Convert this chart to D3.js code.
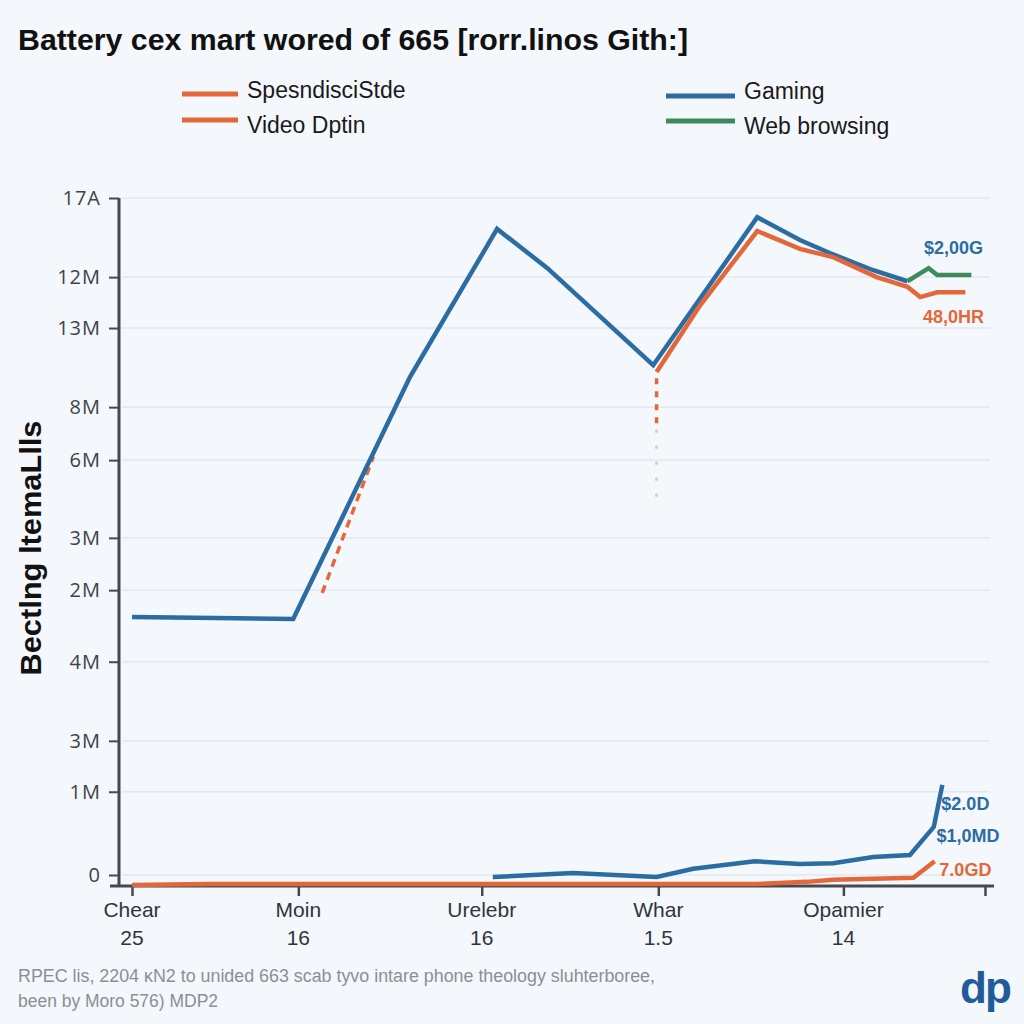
<!DOCTYPE html>
<html><head><meta charset="utf-8">
<script src="https://cdn.jsdelivr.net/npm/d3@7"></script>
<style>
html,body{margin:0;padding:0;background:#f4f7fb;}
svg{display:block;}
</style></head>
<body>
<svg id="chart" width="1024" height="1024"></svg>
<script>
// ---------- data ----------
const titleText = "Battery cex mart wored of 665 [rorr.linos Gith:]";
const yAxisTitle = "Bectlng ltemaLlls";
const footLines = ["RPEC lis, 2204 \u0138N2 to unided 663 scab tyvo intare phone theology sluhterboree,", "been by Moro 576) MDP2"];

const xTickValues = [0, 19.5, 41.0, 61.7, 83.4, 100];
const xTickNames = ["Chear", "Moin", "Urelebr", "Whar", "Opamier", ""];
const xTickNums = ["25", "16", "16", "1.5", "14", ""];

const yTickValues = [100, 88.5, 81.1, 69.6, 61.9, 50.6, 43.0, 32.6, 21.1, 13.7, 1.6];
const yTickLabels = ["17A", "12M", "13M", "8M", "6M", "3M", "2M", "4M", "3M", "1M", "0"];

const legendNames = ["SpesndisciStde", "Video Dptin", "Gaming", "Web browsing"];

// series (x in axis units 0-100, y in axis units 0-100)
const gamingX = [0, 18.9, 32.6, 42.8, 48.7, 61.1, 73.3, 78.3, 81.8, 86.9, 90.9];
const gamingY = [39.1, 38.8, 74.0, 95.5, 89.8, 75.7, 97.2, 93.9, 92.0, 89.5, 87.9];

const webX = [90.9, 93.4, 94.4, 98.4];
const webY = [87.9, 89.8, 88.8, 88.8];

const videoX = [61.5, 66.6, 73.3, 78.3, 82.2, 87.3, 90.9, 92.4, 94.4, 97.7];
const videoY = [74.7, 84.4, 95.2, 92.6, 91.4, 88.5, 87.1, 85.6, 86.3, 86.3];

const spendDashX = [22.3, 28.3];
const spendDashY = [42.6, 62.4];

const videoDropX = [61.5, 61.5, 61.5];
const videoDropY = [73.8, 66.3, 56.1];

const gamingLowX = [42.3, 51.7, 61.5, 65.8, 73.0, 78.3, 82.2, 86.9, 91.2, 94.0, 95.0];
const gamingLowY = [1.3, 1.9, 1.3, 2.5, 3.6, 3.2, 3.3, 4.2, 4.5, 8.6, 14.7];

const spendLowX = [0, 8.9, 73.3, 79.1, 82.2, 91.6, 94.1];
const spendLowY = [0.15, 0.3, 0.3, 0.6, 0.9, 1.2, 3.6];

const endLabels = ["$2,00G", "48,0HR", "$2.0D", "$1,0MD", "7.0GD"];
const endLabelX = [96.3, 96.3, 97.7, 98.0, 97.7];
const endLabelY = [92.8, 82.8, 11.9, 7.3, 2.3];

// ---------- drawing ----------
const BLUE = "#2b6ca3", ORANGE = "#e2673a", GREEN = "#3f8a5c";
const svg = d3.select("#chart");
svg.append("rect").attr("width",1024).attr("height",1024).attr("fill","#f4f7fb");

const x = d3.scaleLinear().domain([0,100]).range([132,985]);
const y = d3.scaleLinear().domain([0,100]).range([886,198]);

// grid
svg.append("g").selectAll("line").data(yTickValues).join("line")
  .attr("x1",122).attr("x2",990).attr("y1",d=>y(d)).attr("y2",d=>y(d))
  .attr("stroke","#e2e8ef").attr("stroke-width",1.5);

// y axis
const yAxis = d3.axisLeft(y).tickValues(yTickValues).tickFormat((d,i)=>yTickLabels[i]).tickSize(10).tickPadding(8);
const gy = svg.append("g").attr("transform","translate(119,0)").call(yAxis);
gy.select(".domain").attr("stroke","#454a52").attr("stroke-width",3).attr("d","M0,198V886");
gy.selectAll(".tick line").attr("stroke","#454a52").attr("stroke-width",2);
gy.selectAll(".tick text").attr("fill","#3d434b").attr("font-family","'Open Sans',sans-serif").attr("font-size",20).attr("letter-spacing",1);

// x axis
const xAxis = d3.axisBottom(x).tickValues(xTickValues).tickFormat("").tickSize(10);
const gx = svg.append("g").attr("transform","translate(0,886)").call(xAxis);
gx.select(".domain").attr("stroke","#454a52").attr("stroke-width",3).attr("d","M110,0H994");
gx.selectAll(".tick line").attr("stroke","#454a52").attr("stroke-width",2.5);
const xl = svg.append("g");
xTickValues.forEach((v,i)=>{
  xl.append("text").attr("x",x(v)).attr("y",917).attr("text-anchor","middle")
    .attr("font-family","'Liberation Sans',Arial,sans-serif").attr("font-size",21).attr("fill","#30353c").text(xTickNames[i]);
  xl.append("text").attr("x",x(v)).attr("y",945).attr("text-anchor","middle")
    .attr("font-family","'Liberation Sans',Arial,sans-serif").attr("font-size",21).attr("fill","#30353c").text(xTickNums[i]);
});

// lines
const line = d3.line().x(d=>x(d[0])).y(d=>y(d[1]));
const zip = (a,b)=>a.map((v,i)=>[v,b[i]]);
function draw(xs, ys, color, w, dash, op){
  svg.append("path").datum(zip(xs,ys)).attr("d",line).attr("fill","none")
    .attr("stroke",color).attr("stroke-width",w).attr("stroke-linejoin","miter")
    .attr("stroke-dasharray",dash||null).attr("opacity",op==null?1:op);
}
draw(spendLowX, spendLowY, ORANGE, 4.5);
draw(gamingLowX, gamingLowY, BLUE, 4.5);
draw(spendDashX, spendDashY, ORANGE, 3.5, "8,6");
draw(videoDropX.slice(0,2), videoDropY.slice(0,2), ORANGE, 3.5, "6,7");
draw(videoDropX.slice(1), videoDropY.slice(1), "#efb89f", 3, "3,13", 0.8);
draw(gamingX, gamingY, BLUE, 4.5);
draw(videoX, videoY, ORANGE, 4.5);
draw(webX, webY, GREEN, 4.5);

// end labels
const lblColors = [BLUE, ORANGE, BLUE, BLUE, ORANGE];
endLabels.forEach((t,i)=>{
  svg.append("text").attr("x",x(endLabelX[i])).attr("y",y(endLabelY[i])).attr("dy","0.35em")
    .attr("text-anchor","middle").attr("font-family","'Liberation Sans',Arial,sans-serif")
    .attr("font-weight","bold").attr("font-size",18).attr("fill",lblColors[i]).text(t);
});

// title
svg.append("text").attr("x",18).attr("y",50).attr("font-family","'Liberation Sans',Arial,sans-serif")
  .attr("font-weight","bold").attr("font-size",30).attr("fill","#111")
  .attr("textLength",670).attr("lengthAdjust","spacingAndGlyphs").text(titleText);

// legend
const legColors = [ORANGE, ORANGE, BLUE, GREEN];
const legX = [182, 182, 666, 666];
const legY = [94, 120, 96, 121];
const legTextY = [90, 125, 91, 126];
legendNames.forEach((n,i)=>{
  const w = i<2 ? 56 : 69;
  svg.append("line").attr("x1",legX[i]).attr("x2",legX[i]+w).attr("y1",legY[i]).attr("y2",legY[i])
    .attr("stroke",legColors[i]).attr("stroke-width",5);
  svg.append("text").attr("x",legX[i]+w+9).attr("y",legTextY[i]).attr("dy","0.35em")
    .attr("font-family","'Liberation Sans',Arial,sans-serif").attr("font-size",23).attr("fill","#1a1a1a").text(n);
});

// y axis title
svg.append("text").attr("transform","translate(30,548) rotate(-90)").attr("text-anchor","middle").attr("dy","0.35em")
  .attr("font-family","'Liberation Sans',Arial,sans-serif").attr("font-weight","bold").attr("font-size",30).attr("fill","#111")
  .attr("textLength",255).attr("lengthAdjust","spacingAndGlyphs").text(yAxisTitle);

// footer
svg.append("text").attr("x",18).attr("y",982).attr("font-family","'Liberation Sans',Arial,sans-serif")
  .attr("font-size",18).attr("fill","#8a8f96").attr("textLength",637).attr("lengthAdjust","spacingAndGlyphs").text(footLines[0]);
svg.append("text").attr("x",18).attr("y",1007).attr("font-family","'Liberation Sans',Arial,sans-serif")
  .attr("font-size",18).attr("fill","#8a8f96").attr("textLength",200).attr("lengthAdjust","spacingAndGlyphs").text(footLines[1]);
svg.append("text").attr("x",985).attr("y",1003).attr("text-anchor","middle").attr("font-family","'Liberation Sans',Arial,sans-serif")
  .attr("font-weight","bold").attr("font-size",44).attr("fill","#1f5c99").attr("letter-spacing",-2).text("dp");
</script>
</body></html>
